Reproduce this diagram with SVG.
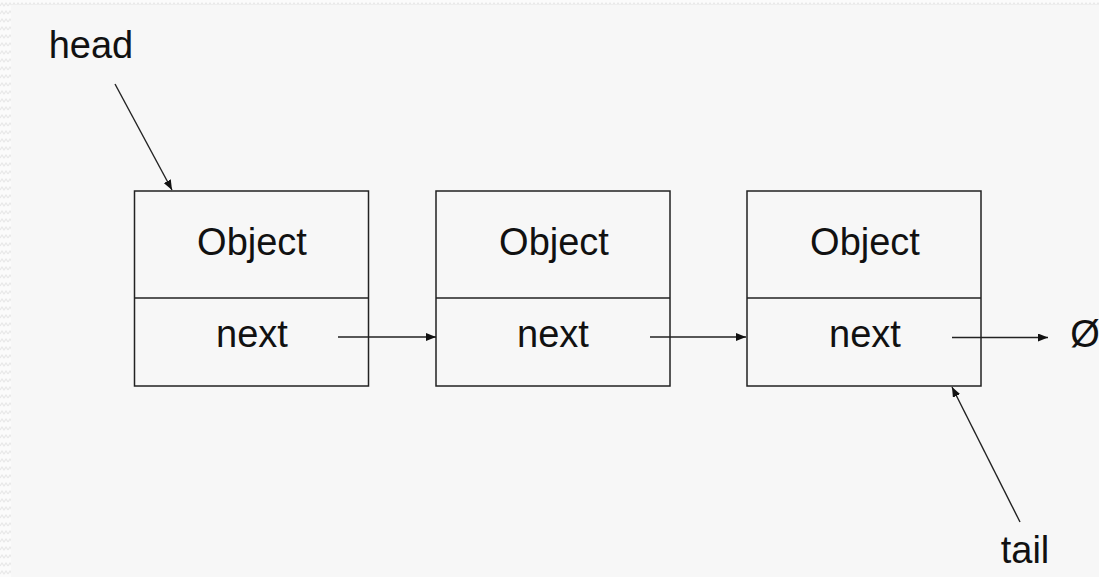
<svg xmlns="http://www.w3.org/2000/svg" width="1099" height="577" viewBox="0 0 1099 577">
<style>
  .box { fill: none; stroke: #222; stroke-width: 1.5; }
  .lbl { font-family: "Liberation Sans", Arial, sans-serif; font-size: 38px; fill: #111; text-anchor: middle; }
  .edge { stroke: #222; stroke-width: 1.4; fill: none; marker-end: url(#arrow); }
</style>
<defs>
  <marker id="arrow" viewBox="0 0 10 8" refX="10" refY="4" markerWidth="10" markerHeight="8" markerUnits="userSpaceOnUse" orient="auto">
    <path d="M0,0 L10,4 L0,8 Z" fill="#111"/>
  </marker>
  <pattern id="zig" width="8" height="8" patternUnits="userSpaceOnUse">
    <rect width="8" height="8" fill="#fbfbfb"/>
    <path d="M0,6 L2,3 L4,6 L6,3 L8,6" stroke="#e8e8e8" stroke-width="1.2" fill="none"/>
  </pattern>
</defs>
<rect x="0" y="0" width="1099" height="577" fill="url(#zig)"/>
<rect x="11" y="5" width="1088" height="572" fill="#f7f7f7"/>

<g id="head">
  <text class="lbl" x="91" y="58">head</text>
</g>
<g id="node1">
  <rect class="box" x="134.5" y="191" width="234" height="195"/>
  <line class="box" x1="134.5" y1="298" x2="368.5" y2="298"/>
  <text class="lbl" x="252" y="255">Object</text>
  <text class="lbl" x="252" y="347">next</text>
</g>
<g id="node2">
  <rect class="box" x="436" y="191" width="234" height="195"/>
  <line class="box" x1="436" y1="298" x2="670" y2="298"/>
  <text class="lbl" x="554" y="255">Object</text>
  <text class="lbl" x="553" y="347">next</text>
</g>
<g id="node3">
  <rect class="box" x="747" y="191" width="234" height="195"/>
  <line class="box" x1="747" y1="298" x2="981" y2="298"/>
  <text class="lbl" x="865" y="255">Object</text>
  <text class="lbl" x="865" y="347">next</text>
</g>
<g id="null">
  <text class="lbl" x="1085" y="347">Ø</text>
</g>
<g id="tail">
  <text class="lbl" x="1025" y="563">tail</text>
</g>

<g id="connectors">
  <line class="edge" x1="115" y1="84" x2="172" y2="190"/>
  <line class="edge" x1="338" y1="337" x2="436" y2="337"/>
  <line class="edge" x1="650" y1="337" x2="746" y2="337"/>
  <line class="edge" x1="952" y1="337.5" x2="1048" y2="337.5"/>
  <line class="edge" x1="1020" y1="522" x2="952" y2="387"/>
</g>
</svg>
